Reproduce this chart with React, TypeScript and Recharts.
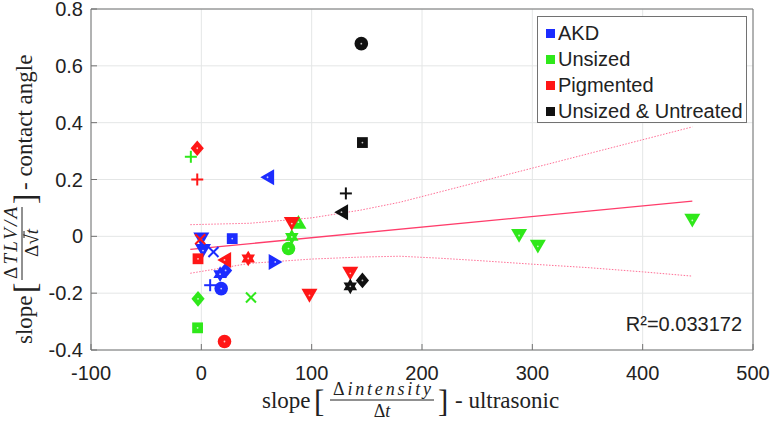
import React from "react";
import {
  ScatterChart,
  Scatter,
  XAxis,
  YAxis,
  CartesianGrid,
  ReferenceArea,
} from "recharts";

const X_TICKS = [-100, 0, 100, 200, 300, 400, 500];
const Y_TICKS = [-0.4, -0.2, 0, 0.2, 0.4, 0.6, 0.8];

const AKD_X = [0, 28, 1.5, 11, 60, 67, 17, 22, 8, 18];
const AKD_Y = [-0.01, -0.008, -0.05, -0.055, 0.208, -0.09, -0.133, -0.12, -0.172, -0.184];

const UNSIZED_X = [-9.5, -3, -3.4, 45, 79, 82, 88, 288, 305, 445];
const UNSIZED_Y = [0.28, -0.22, -0.322, -0.215, -0.043, -0.002, 0.05, 0.003, -0.035, 0.056];

const PIGMENTED_X = [-3.7, -3.7, -1, -3, 21, 42.5, 82, 98, 135, 21];
const PIGMENTED_Y = [0.31, 0.2, -0.01, -0.079, -0.083, -0.078, 0.045, -0.208, -0.13, -0.37];

const UNTREATED_X = [145, 146, 131, 127, 146, 135];
const UNTREATED_Y = [0.678, 0.33, 0.151, 0.085, -0.155, -0.176];

// marker kinds, same order as the values above
const AKD_MARKS = ["down", "square", "down", "x", "left", "right", "hexagram", "diamond", "plus", "circle"];
const UNSIZED_MARKS = ["plus", "diamond", "square", "x", "circle", "hexagram", "up", "down", "down", "down"];
const PIGMENTED_MARKS = ["diamond", "plus", "x", "square", "left", "hexagram", "down", "down", "down", "circle"];
const UNTREATED_MARKS = ["circle", "square", "plus", "left", "diamond", "hexagram"];

// regression line and confidence bands
const FIT_X = [-10, 445];
const FIT_Y = [-0.046, 0.124];
const BAND_X = [-10, 44, 100, 144, 180, 216, 250, 300, 350, 400, 445];
const UPPER_Y = [0.041, 0.046, 0.065, 0.092, 0.12, 0.156, 0.19, 0.24, 0.29, 0.34, 0.385];
const LOWER_Y = [-0.13, -0.095, -0.08, -0.073, -0.07, -0.077, -0.085, -0.098, -0.11, -0.125, -0.14];

const R2_TEXT = "R²=0.033172";

const GROUPS = [
  { name: "AKD", color: "#1c2cff", xs: AKD_X, ys: AKD_Y, marks: AKD_MARKS },
  { name: "Unsized", color: "#2fe81a", xs: UNSIZED_X, ys: UNSIZED_Y, marks: UNSIZED_MARKS },
  { name: "Pigmented", color: "#ff1616", xs: PIGMENTED_X, ys: PIGMENTED_Y, marks: PIGMENTED_MARKS },
  { name: "Unsized & Untreated", color: "#111111", xs: UNTREATED_X, ys: UNTREATED_Y, marks: UNTREATED_MARKS },
];

const toPoints = (xs: number[], ys: number[], marks?: string[]) =>
  xs.map((x, i) => ({ x, y: ys[i], m: marks ? marks[i] : "" }));

const AXIS_COLOR = "#727272";
const TEXT_COLOR = "#222";
const SANS = '"Liberation Sans", Arial, sans-serif';
const SERIF = '"Liberation Serif", "Times New Roman", serif';

function star(cx: number, cy: number, r: number) {
  const pts: string[] = [];
  for (let i = 0; i < 12; i++) {
    const rr = i % 2 === 0 ? r : r * 0.58;
    const a = (Math.PI / 6) * i - Math.PI / 2;
    pts.push(`${cx + rr * Math.cos(a)},${cy + rr * Math.sin(a)}`);
  }
  return pts.join(" ");
}

// eslint-disable-next-line @typescript-eslint/no-explicit-any
function Marker({ cx, cy, payload, color }: any) {
  if (cx == null || cy == null) return <g />;
  const dot = <circle cx={cx} cy={cy} r={0.9} fill="#fff" fillOpacity={0.75} />;
  switch (payload.m) {
    case "circle":
      return <g><circle cx={cx} cy={cy} r={6.8} fill={color} />{dot}</g>;
    case "square":
      return <g><rect x={cx - 5.4} y={cy - 5.4} width={10.8} height={10.8} fill={color} />{dot}</g>;
    case "diamond":
      return <g><polygon points={`${cx},${cy - 7.8} ${cx + 6.6},${cy} ${cx},${cy + 7.8} ${cx - 6.6},${cy}`} fill={color} />{dot}</g>;
    case "down":
      return <g><polygon points={`${cx - 8},${cy - 6.6} ${cx + 8},${cy - 6.6} ${cx},${cy + 7.2}`} fill={color} />{dot}</g>;
    case "up":
      return <g><polygon points={`${cx - 8},${cy + 6.6} ${cx + 8},${cy + 6.6} ${cx},${cy - 7.2}`} fill={color} />{dot}</g>;
    case "left":
      return <g><polygon points={`${cx - 7.2},${cy} ${cx + 6.6},${cy - 8} ${cx + 6.6},${cy + 8}`} fill={color} />{dot}</g>;
    case "right":
      return <g><polygon points={`${cx + 7.2},${cy} ${cx - 6.6},${cy - 8} ${cx - 6.6},${cy + 8}`} fill={color} />{dot}</g>;
    case "hexagram":
      return <g><polygon points={star(cx, cy, 7.8)} fill={color} />{dot}</g>;
    case "plus":
      return (
        <g stroke={color} strokeWidth={2}>
          <line x1={cx - 6} x2={cx + 6} y1={cy} y2={cy} />
          <line x1={cx} x2={cx} y1={cy - 6} y2={cy + 6} />
        </g>
      );
    case "x":
      return (
        <g stroke={color} strokeWidth={2}>
          <line x1={cx - 5} x2={cx + 5} y1={cy - 5} y2={cy + 5} />
          <line x1={cx - 5} x2={cx + 5} y1={cy + 5} y2={cy - 5} />
        </g>
      );
    default:
      return <g />;
  }
}

const fmt = (v: number) => String(Math.round(v * 10) / 10);

// eslint-disable-next-line @typescript-eslint/no-explicit-any
function BottomTick({ x, y, payload }: any) {
  return (
    <g>
      <line x1={x} x2={x} y1={y} y2={y - 6} stroke={AXIS_COLOR} />
      <text x={x} y={y + 30} textAnchor="middle" fontSize={20} fontFamily={SANS} fill={TEXT_COLOR}>
        {payload.value}
      </text>
    </g>
  );
}

// eslint-disable-next-line @typescript-eslint/no-explicit-any
function TopTick({ x, y }: any) {
  return <line x1={x} x2={x} y1={y} y2={y + 6} stroke={AXIS_COLOR} />;
}

// eslint-disable-next-line @typescript-eslint/no-explicit-any
function LeftTick({ x, y, payload }: any) {
  return (
    <g>
      <line x1={x} x2={x + 6} y1={y} y2={y} stroke={AXIS_COLOR} />
      <text x={x - 8} y={y + 7} textAnchor="end" fontSize={20} fontFamily={SANS} fill={TEXT_COLOR}>
        {fmt(payload.value)}
      </text>
    </g>
  );
}

// eslint-disable-next-line @typescript-eslint/no-explicit-any
function RightTick({ x, y }: any) {
  return <line x1={x} x2={x - 6} y1={y} y2={y} stroke={AXIS_COLOR} />;
}

function AxisLabels() {
  return (
    <svg
      width={774}
      height={422}
      style={{ position: "absolute", left: 0, top: 0, pointerEvents: "none" }}
      fontFamily={SERIF}
      fill={TEXT_COLOR}
    >
      {/* x label */}
      <g>
        <text x={262} y={408} fontSize={23}>slope</text>
        <text x={314} y={412} fontSize={31}>[</text>
        <text x={382} y={395} fontSize={18} textAnchor="middle" textLength={98} lengthAdjust="spacing">
          Δ<tspan fontStyle="italic">intensity</tspan>
        </text>
        <line x1={330} x2={434} y1={400} y2={400} stroke={TEXT_COLOR} strokeWidth={1} />
        <text x={382} y={417} fontSize={18} textAnchor="middle">
          Δ<tspan fontStyle="italic">t</tspan>
        </text>
        <text x={438} y={412} fontSize={31}>]</text>
        <text x={455} y={408} fontSize={23}>- ultrasonic</text>
      </g>
      {/* y label */}
      <g transform="translate(32,180) rotate(-90)">
        <text x={-164} y={0} fontSize={23}>slope</text>
        <text x={-113} y={4} fontSize={31}>[</text>
        <text x={-63} y={-15} fontSize={19} textAnchor="middle" textLength={72} lengthAdjust="spacing">
          Δ<tspan fontStyle="italic">TLV/A</tspan>
        </text>
        <line x1={-100} x2={-27} y1={-10} y2={-10} stroke={TEXT_COLOR} strokeWidth={1} />
        <text x={-63} y={6} fontSize={19} textAnchor="middle">
          Δ√<tspan fontStyle="italic">t</tspan>
        </text>
        <line x1={-58} x2={-51} y1={-8} y2={-8} stroke={TEXT_COLOR} strokeWidth={1} />
        <text x={-24} y={4} fontSize={31}>]</text>
        <text x={-10} y={0} fontSize={23}>- contact angle</text>
      </g>
      <text x={742} y={331} fontSize={20} fontFamily={SANS} textAnchor="end">
        {R2_TEXT}
      </text>
    </svg>
  );
}

function LegendBox() {
  return (
    <div
      style={{
        position: "absolute",
        left: 537,
        top: 16,
        width: 210,
        height: 107,
        border: `1px solid ${AXIS_COLOR}`,
        background: "#fff",
        fontFamily: SANS,
        fontSize: 20,
        color: TEXT_COLOR,
        paddingTop: 3,
        boxSizing: "border-box",
      }}
    >
      {GROUPS.map((g) => (
        <div key={g.name} style={{ display: "flex", alignItems: "center", height: 26, whiteSpace: "nowrap" }}>
          <span style={{ width: 9, height: 9, background: g.color, marginLeft: 8, marginRight: 3 }} />
          <span>{g.name}</span>
        </div>
      ))}
    </div>
  );
}

export default function App() {
  return (
    <div style={{ position: "absolute", left: 0, top: 0, width: 774, height: 422, background: "#fff" }}>
      <ScatterChart width={774} height={422} margin={{ top: 9, right: 21, bottom: 0, left: 0 }}>
        <CartesianGrid stroke="#e4e6e6" />
        <XAxis
          type="number"
          dataKey="x"
          domain={[-100, 500]}
          ticks={X_TICKS}
          interval={0}
          height={72}
          axisLine={false}
          tickLine={false}
          tickSize={0}
          tickMargin={0}
          tick={<BottomTick />}
          allowDataOverflow
        />
        <XAxis
          xAxisId="top"
          orientation="top"
          type="number"
          dataKey="x"
          domain={[-100, 500]}
          ticks={X_TICKS}
          interval={0}
          height={0}
          axisLine={false}
          tickLine={false}
          tickSize={0}
          tickMargin={0}
          tick={<TopTick />}
          allowDataOverflow
        />
        <YAxis
          type="number"
          dataKey="y"
          domain={[-0.4, 0.8]}
          ticks={Y_TICKS}
          interval={0}
          width={91}
          axisLine={false}
          tickLine={false}
          tickSize={0}
          tickMargin={0}
          tick={<LeftTick />}
          allowDataOverflow
        />
        <YAxis
          yAxisId="right"
          orientation="right"
          type="number"
          dataKey="y"
          domain={[-0.4, 0.8]}
          ticks={Y_TICKS}
          interval={0}
          width={0}
          axisLine={false}
          tickLine={false}
          tickSize={0}
          tickMargin={0}
          tick={<RightTick />}
          allowDataOverflow
        />
        <ReferenceArea
          x1={-100}
          x2={500}
          y1={-0.4}
          y2={0.8}
          fill="none"
          stroke={AXIS_COLOR}
          strokeWidth={1}
          ifOverflow="visible"
        />
        <Scatter
          data={toPoints(BAND_X, UPPER_Y)}
          line={{ stroke: "#ff6f96", strokeWidth: 1, strokeDasharray: "1.5 1.5" }}
          lineType="joint"
          shape={() => <g />}
          isAnimationActive={false}
        />
        <Scatter
          data={toPoints(BAND_X, LOWER_Y)}
          line={{ stroke: "#ff6f96", strokeWidth: 1, strokeDasharray: "1.5 1.5" }}
          lineType="joint"
          shape={() => <g />}
          isAnimationActive={false}
        />
        <Scatter
          data={toPoints(FIT_X, FIT_Y)}
          line={{ stroke: "#ff3d6b", strokeWidth: 1.4 }}
          lineType="joint"
          shape={() => <g />}
          isAnimationActive={false}
        />
        {GROUPS.map((g) => (
          <Scatter
            key={g.name}
            name={g.name}
            data={toPoints(g.xs, g.ys, g.marks)}
            // eslint-disable-next-line @typescript-eslint/no-explicit-any
            shape={(p: any) => <Marker {...p} color={g.color} />}
            isAnimationActive={false}
          />
        ))}
      </ScatterChart>
      <AxisLabels />
      <LegendBox />
    </div>
  );
}
